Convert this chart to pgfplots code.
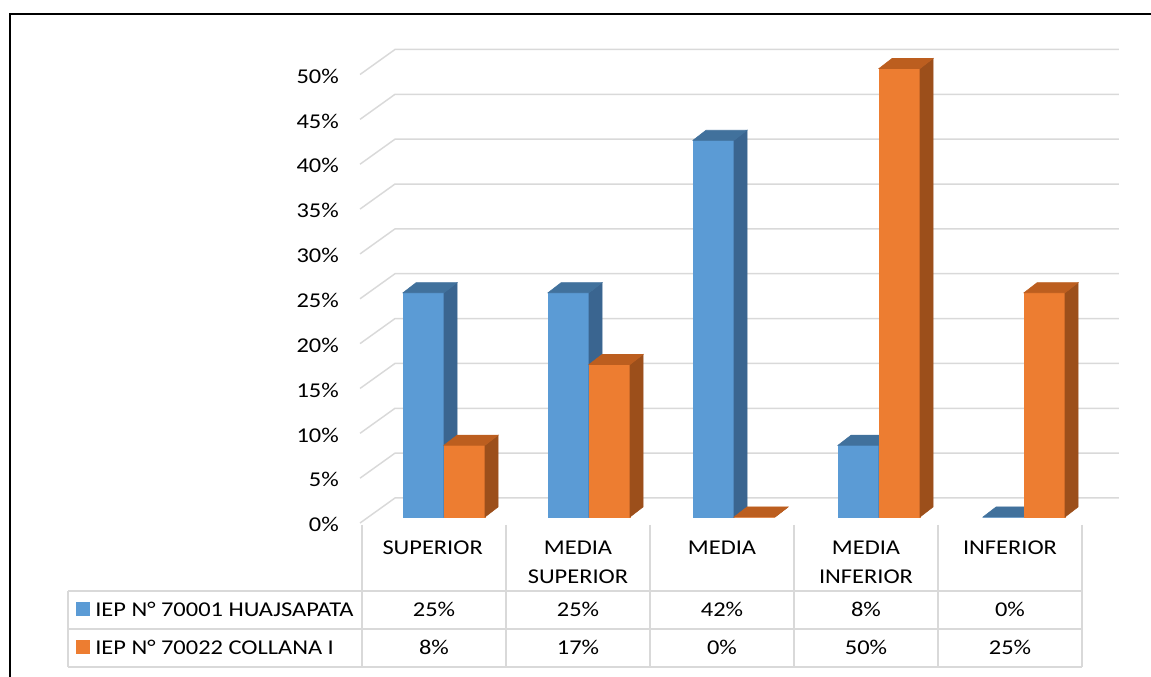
\documentclass[border=0pt]{standalone}
\usepackage{pgfplots}
\pgfplotsset{compat=1.18}
\usepackage{fontspec}
\setmainfont{Carlito}[FakeStretch=1.16]
\definecolor{bfront}{HTML}{5B9BD5}
\definecolor{btop}{HTML}{41719C}
\definecolor{bside}{HTML}{3A6590}
\definecolor{ofront}{HTML}{ED7D31}
\definecolor{otop}{HTML}{BC5E1F}
\definecolor{oside}{HTML}{9C4F1B}
\definecolor{gridc}{HTML}{D9D9D9}
\pgfdeclareplotmark{nothing}{}
\newcommand\fs{\fontsize{15.8}{19}\selectfont}
\begin{document}
\begin{tikzpicture}
\useasboundingbox (0,0) rectangle (863.25pt,507.75pt);
\begin{axis}[
  at={(333pt,120pt)}, anchor=origin,
  x=108.75pt, y=6.7275pt,
  xmin=-0.724, xmax=4.7, ymin=-3, ymax=56,
  clip=false,
  axis line style={draw=none},
  tick style={draw=none},
  xtick=\empty,
  ytick={0,5,10,15,20,25,30,35,40,45,50},
  yticklabels={0\%,5\%,10\%,15\%,20\%,25\%,30\%,35\%,40\%,45\%,50\%},
  yticklabel style={anchor=east, inner sep=0pt, yshift=-5.75pt, font=\fs, text=black},
]
\pgfplotsinvokeforeach{0,5,10,15,20,25,30,35,40,45,50}{
  \draw[gridc, line width=1.1pt] (axis cs:-0.579,#1-0.67) -- (axis cs:-0.338,#1+2.12) -- (axis cs:4.655,#1+2.12);
}
% IEP N 70001 HUAJSAPATA
\addplot[scatter, only marks, mark=nothing,
  visualization depends on={rawy \as \ry},
  scatter/@pre marker code/.code={%
    \pgfmathsetmacro\hh{\ry*6.7275}%
    \fill[bfront] (-30.75pt,-\hh pt) rectangle (0pt,0pt);
    \fill[bside] (0pt,0pt) -- (9.75pt,7.5pt) -- (9.75pt,7.5pt-\hh pt) -- (0pt,-\hh pt) -- cycle;
    \fill[btop] (-30.75pt,0pt) -- (0pt,0pt) -- (9.75pt,7.5pt) -- (-21pt,7.5pt) -- cycle;
  },
  scatter/@post marker code/.code={},
] coordinates {(0,25) (1,25) (2,42) (3,8) (4,0)};
% IEP N 70022 COLLANA I
\addplot[scatter, only marks, mark=nothing,
  visualization depends on={rawy \as \ry},
  scatter/@pre marker code/.code={%
    \pgfmathsetmacro\hh{\ry*6.7275}%
    \fill[ofront] (0pt,-\hh pt) rectangle (30.75pt,0pt);
    \fill[oside] (30.75pt,0pt) -- (40.5pt,7.5pt) -- (40.5pt,7.5pt-\hh pt) -- (30.75pt,-\hh pt) -- cycle;
    \fill[otop] (0pt,0pt) -- (30.75pt,0pt) -- (40.5pt,7.5pt) -- (9.75pt,7.5pt) -- cycle;
  },
  scatter/@post marker code/.code={},
] coordinates {(0,8) (1,17) (2,0) (3,50) (4,25)};
\end{axis}
% data table
\begin{scope}[gridc, line width=1.2pt]
\foreach \x in {271.5,379.5,487.5,595.5,703.5,811.5} \draw (\x pt,114pt) -- (\x pt,7.5pt);
\draw (51pt,64.5pt) -- (811.5pt,64.5pt);
\draw (51pt,36pt) -- (811.5pt,36pt);
\draw (51pt,7.5pt) -- (811.5pt,7.5pt);
\draw (51pt,64.5pt) -- (51pt,7.5pt);
\end{scope}
\begin{scope}[every node/.style={font=\fs, text=black, inner sep=0pt}]
\node at (324.5pt,96.75pt) {SUPERIOR};
\node at (433.5pt,96.75pt) {MEDIA};
\node at (433.5pt,75pt) {SUPERIOR};
\node at (541.5pt,96.75pt) {MEDIA};
\node at (649.5pt,96.75pt) {MEDIA};
\node at (649.5pt,75pt) {INFERIOR};
\node at (757.5pt,96.75pt) {INFERIOR};
\fill[bfront] (57pt,45.75pt) rectangle (67.5pt,56.25pt);
\fill[ofront] (57pt,17.25pt) rectangle (67.5pt,27.75pt);
\node[anchor=west] at (71.25pt,51pt) {IEP N° 70001 HUAJSAPATA};
\node[anchor=west] at (71.25pt,22.5pt) {IEP N° 70022 COLLANA I};
\node at (325.5pt,51pt) {25\%};
\node at (433.5pt,51pt) {25\%};
\node at (541.5pt,51pt) {42\%};
\node at (649.5pt,51pt) {8\%};
\node at (757.5pt,51pt) {0\%};
\node at (325.5pt,22.5pt) {8\%};
\node at (433.5pt,22.5pt) {17\%};
\node at (541.5pt,22.5pt) {0\%};
\node at (649.5pt,22.5pt) {50\%};
\node at (757.5pt,22.5pt) {25\%};
\end{scope}
\draw[line width=1.5pt] (7.75pt,-2pt) -- (7.75pt,497.25pt) -- (870pt,497.25pt);
\end{tikzpicture}
\end{document}
